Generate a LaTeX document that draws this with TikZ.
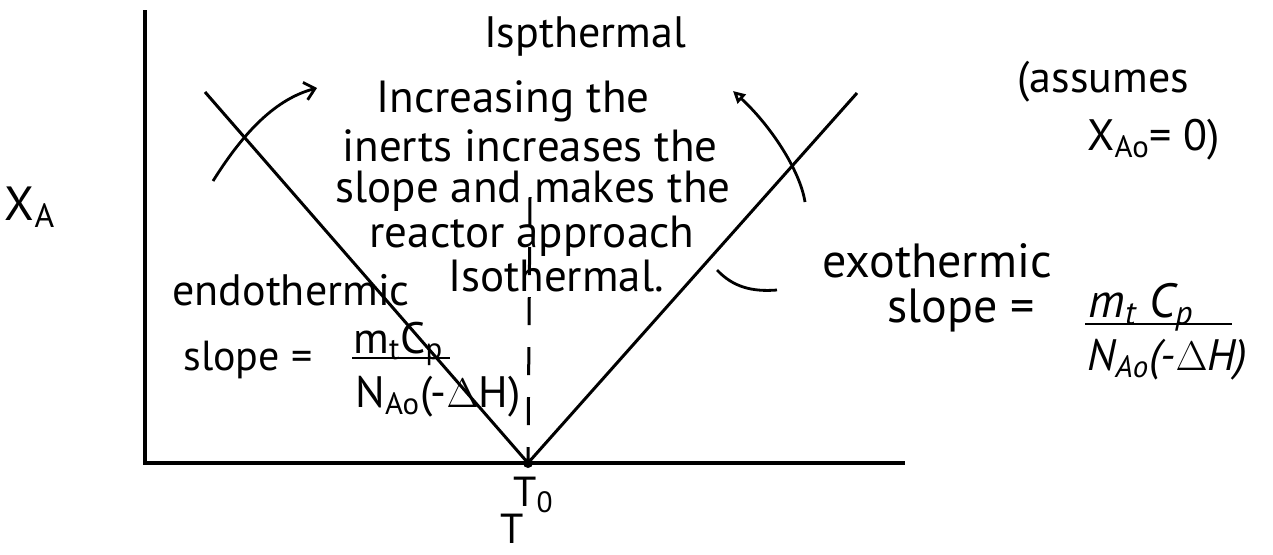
\documentclass[tikz,border=0pt]{standalone}
\usepackage{fontspec}
\setmainfont{PT Sans}
\usetikzlibrary{arrows.meta}
\tikzset{
  axisline/.style={line width=2pt},
  vline/.style={line width=1.5pt},
  dashline/.style={line width=1.5pt, dash pattern=on 14pt off 11pt},
  curveline/.style={line width=1.4pt},
  fracbar/.style={line width=1pt},
  hand/.style={inner sep=0pt, font=\fontsize{22.5}{26}\selectfont},
  handS/.style={inner sep=0pt, font=\fontsize{21}{25}\selectfont},
  handL/.style={inner sep=0pt, font=\fontsize{22}{26}\selectfont},
  handXL/.style={inner sep=0pt, font=\fontsize{24}{28}\selectfont},
}
\begin{document}
\begin{tikzpicture}[x=0.5pt,y=-0.5pt]
\useasboundingbox (0,0) rectangle (1273,554);
% axes and lines
\coordinate (ytop) at (145,10);
\coordinate (orig) at (145,463);
\coordinate (xend) at (905,463);
\coordinate (vtx) at (528,463);
\coordinate (ltop) at (205,92);
\coordinate (rtop) at (857,93);
\coordinate (dtop) at (530,197);
\draw[axisline] (ytop) -- (orig) -- (xend);
\draw[vline] (ltop) -- (vtx) -- (rtop);
\draw[dashline] (dtop) -- (vtx);
\fill (vtx) circle[radius=2.5pt];
% curved arrows
\coordinate (la1) at (213,181);
\coordinate (la2) at (317,88);
\draw[curveline, -{Straight Barb[length=5pt,width=9pt]}] (la1) .. controls (240,138) and (272,100) .. (la2);
\coordinate (ra1) at (805,202);
\coordinate (ra2) at (733,91);
\draw[curveline, -{Triangle[open,length=6pt,width=6pt]}] (ra1) .. controls (800,170) and (770,125) .. (ra2);
\coordinate (sc1) at (717,270);
\coordinate (sc2) at (777,290);
\draw[curveline] (sc1) .. controls (733,287) and (752,292) .. (sc2);
% central text
\node[handL, anchor=base] (title) at (585,47) {Ispthermal};
\node[hand, anchor=base] (t1) at (513,112) {Increasing the};
\node[hand, anchor=base] (t2) at (530,161) {inerts increases the};
\node[hand, anchor=base] (t3) at (533,202) {slope and makes the};
\node[hand, anchor=base] (t4) at (532,247) {reactor approach};
\node[hand, anchor=base] (t5) at (556,291) {Isothermal.};
% endothermic
\node[handL, anchor=base west] (endo) at (172,305) {endothermic};
\node[handS, anchor=base west] (lslope) at (183,370) {slope =};
\node[handL, anchor=base west] (lnum) at (353,353) {m\textsubscript{t}C\textsubscript{p}};
\coordinate (lbarA) at (352,358);
\coordinate (lbarB) at (450,358);
\draw[fracbar] (lbarA) -- (lbarB);
\node[handL, anchor=base west] (lden) at (355,407) {N\textsubscript{Ao}(-$\Delta$H)};
% exothermic
\node[handXL, anchor=base west] (exo) at (822,277) {exothermic};
\node[handXL, anchor=base west] (rslope) at (887,322) {slope =};
\node[handXL, anchor=base west] (rnum) at (1088,317) {\itshape m\textsubscript{t} C\textsubscript{p}};
\coordinate (rbarA) at (1085,324);
\coordinate (rbarB) at (1232,324);
\draw[fracbar] (rbarA) -- (rbarB);
\node[handL, anchor=base west] (rden) at (1087,370) {\itshape N\textsubscript{Ao}(-$\Delta$H)};
% assumes
\node[handL, anchor=base west] (ass1) at (1017,92) {(assumes};
\node[handL, anchor=base west] (ass2) at (1087,150) {X\textsubscript{Ao}= 0)};
% axis labels
\node[handXL, anchor=base] (ylab) at (30,220) {X\textsubscript{A}};
\node[handS, anchor=base west] (tzero) at (513,506) {T\textsubscript{0}};
\node[handS, anchor=base west] (xlab) at (500,543) {T};
\end{tikzpicture}
\end{document}
